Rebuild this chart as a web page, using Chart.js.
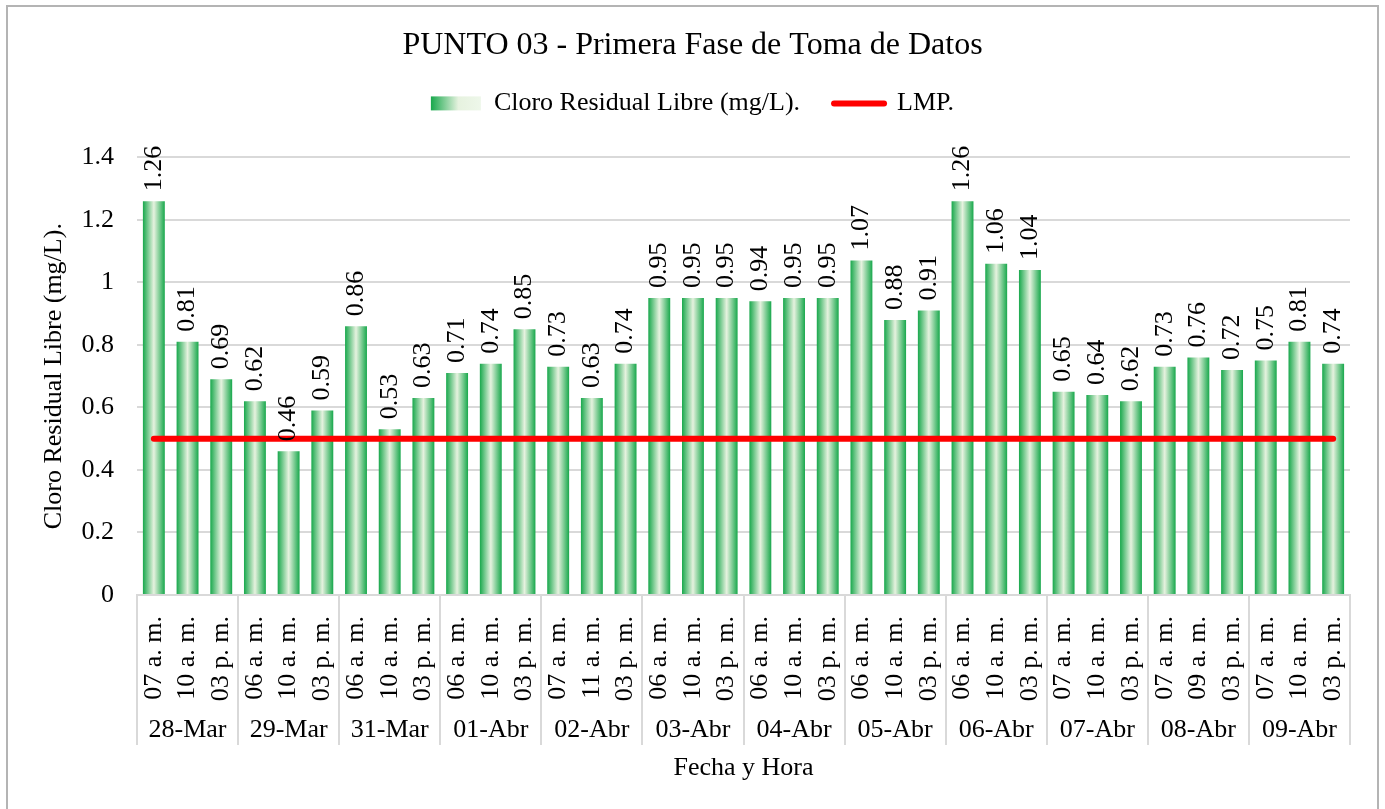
<!DOCTYPE html>
<html lang="es">
<head>
<meta charset="utf-8">
<title>PUNTO 03 - Primera Fase de Toma de Datos</title>
<script src="https://cdn.jsdelivr.net/npm/chart.js@4.4.1/dist/chart.umd.min.js"></script>
<style>
  html, body { margin: 0; padding: 0; background: #fff; }
  #grafico { display: block; }
</style>
</head>
<body>
<canvas id="grafico" width="1385" height="809"></canvas>
<script>
/* Cloro residual libre, punto 03 — primera fase */

const FECHAS = ["28-Mar", "29-Mar", "31-Mar", "01-Abr", "02-Abr", "03-Abr",
  "04-Abr", "05-Abr", "06-Abr", "07-Abr", "08-Abr", "09-Abr"];
const POR_FECHA = 3; // tres tomas por día

const HORAS = [
  "07 a. m.", "10 a. m.", "03 p. m.",
  "06 a. m.", "10 a. m.", "03 p. m.",
  "06 a. m.", "10 a. m.", "03 p. m.",
  "06 a. m.", "10 a. m.", "03 p. m.",
  "07 a. m.", "11 a. m.", "03 p. m.",
  "06 a. m.", "10 a. m.", "03 p. m.",
  "06 a. m.", "10 a. m.", "03 p. m.",
  "06 a. m.", "10 a. m.", "03 p. m.",
  "06 a. m.", "10 a. m.", "03 p. m.",
  "07 a. m.", "10 a. m.", "03 p. m.",
  "07 a. m.", "09 a. m.", "03 p. m.",
  "07 a. m.", "10 a. m.", "03 p. m.",
];

const CLORO = [
  1.26, 0.81, 0.69,
  0.62, 0.46, 0.59,
  0.86, 0.53, 0.63,
  0.71, 0.74, 0.85,
  0.73, 0.63, 0.74,
  0.95, 0.95, 0.95,
  0.94, 0.95, 0.95,
  1.07, 0.88, 0.91,
  1.26, 1.06, 1.04,
  0.65, 0.64, 0.62,
  0.73, 0.76, 0.72,
  0.75, 0.81, 0.74,
];

// límite máximo permisible
const LMP = [
  0.5, 0.5, 0.5, 0.5, 0.5, 0.5, 0.5, 0.5, 0.5, 0.5, 0.5, 0.5,
  0.5, 0.5, 0.5, 0.5, 0.5, 0.5, 0.5, 0.5, 0.5, 0.5, 0.5, 0.5,
  0.5, 0.5, 0.5, 0.5, 0.5, 0.5, 0.5, 0.5, 0.5, 0.5, 0.5, 0.5,
];

const GREEN = "#18a84c";
const PALE = "#e6f2df";
const RED = "#ff0000";
const GRID = "#d9d9d9";
const SERIF = '"Liberation Serif", "Times New Roman", serif';
const BAR_PCT = 0.65;

Chart.defaults.font.family = SERIF;
Chart.defaults.font.size = 26;
Chart.defaults.color = "#000";

function barGradient(c) {
  const x = c.chart.scales.x;
  if (!x || c.dataIndex == null || !x.width) return GREEN;
  const cx = x.getPixelForValue(c.dataIndex);
  if (!isFinite(cx)) return GREEN;
  const half = (x.width / HORAS.length) * BAR_PCT / 2;
  const g = c.chart.ctx.createLinearGradient(cx - half, 0, cx + half, 0);
  g.addColorStop(0, GREEN);
  g.addColorStop(0.5, PALE);
  g.addColorStop(1, GREEN);
  return g;
}

// valores encima de cada barra, girados
const etiquetas = {
  id: "etiquetas",
  afterDatasetsDraw(chart) {
    const { ctx } = chart;
    const meta = chart.getDatasetMeta(0);
    ctx.save();
    ctx.font = "26px " + SERIF;
    ctx.fillStyle = "#000";
    ctx.textAlign = "left";
    ctx.textBaseline = "middle";
    meta.data.forEach((bar, i) => {
      ctx.save();
      ctx.translate(bar.x, bar.y - 10);
      ctx.rotate(-Math.PI / 2);
      ctx.fillText(CLORO[i].toFixed(2), 0, 0);
      ctx.restore();
    });
    ctx.restore();
  },
};

// segundo nivel del eje: fechas y separadores, más el marco y la muestra degradada
const fechas = {
  id: "fechas",
  afterDraw(chart) {
    const { ctx, chartArea, scales: { x } } = chart;
    const paso = (chartArea.right - chartArea.left) / HORAS.length;
    ctx.save();
    ctx.strokeStyle = GRID;
    ctx.lineWidth = 2;
    for (let g = 0; g <= FECHAS.length; g++) {
      const px = Math.round(chartArea.left + g * POR_FECHA * paso);
      ctx.beginPath();
      ctx.moveTo(px, chartArea.bottom);
      ctx.lineTo(px, chartArea.bottom + 150);
      ctx.stroke();
    }
    ctx.font = "26px " + SERIF;
    ctx.fillStyle = "#000";
    ctx.textAlign = "center";
    ctx.textBaseline = "middle";
    FECHAS.forEach((f, g) => {
      const a = x.getPixelForValue(g * POR_FECHA);
      const b = x.getPixelForValue(g * POR_FECHA + POR_FECHA - 1);
      ctx.fillText(f, (a + b) / 2, chartArea.bottom + 135);
    });

    const box = chart.legend.legendHitBoxes[0];
    if (box) {
      const y = box.top + 13 - 7;
      const lg = ctx.createLinearGradient(box.left, 0, box.left + 50, 0);
      lg.addColorStop(0, GREEN);
      lg.addColorStop(0.55, PALE);
      lg.addColorStop(1, "#eef7ea");
      ctx.fillStyle = lg;
      ctx.fillRect(box.left, y, 50, 14);
    }

    ctx.strokeStyle = "#b4b4b4";
    ctx.lineWidth = 2;
    ctx.strokeRect(7, 6, 1371, 820);
    ctx.restore();
  },
};

new Chart(document.getElementById("grafico"), {
  type: "bar",
  data: {
    labels: HORAS,
    datasets: [
      {
        type: "bar",
        label: "Cloro Residual Libre (mg/L).",
        data: CLORO,
        backgroundColor: barGradient,
        categoryPercentage: BAR_PCT,
        barPercentage: 1,
        order: 2,
      },
      {
        type: "line",
        label: "LMP.",
        data: LMP,
        borderColor: RED,
        borderWidth: 6,
        borderCapStyle: "round",
        pointRadius: 0,
        order: 1,
      },
    ],
  },
  options: {
    responsive: false,
    animation: false,
    layout: { padding: { left: 35, right: 35, top: 0, bottom: 0 } },
    plugins: {
      title: {
        display: true,
        text: "PUNTO 03 - Primera Fase de Toma de Datos",
        font: { size: 32, weight: "normal" },
        color: "#000",
        padding: { top: 26, bottom: -8 },
      },
      legend: {
        display: true,
        position: "top",
        labels: {
          usePointStyle: true,
          pointStyleWidth: 50,
          boxHeight: 14,
          padding: 34,
          color: "#000",
          font: { size: 26 },
          generateLabels: () => [
            {
              text: "Cloro Residual Libre (mg/L).",
              fillStyle: "rgba(0,0,0,0)",
              strokeStyle: "rgba(0,0,0,0)",
              lineWidth: 0,
              pointStyle: "rect",
              datasetIndex: 0,
              fontColor: "#000",
            },
            {
              text: "LMP.",
              fillStyle: RED,
              strokeStyle: RED,
              lineWidth: 6,
              lineCap: "round",
              pointStyle: "line",
              datasetIndex: 1,
              fontColor: "#000",
            },
          ],
        },
      },
      // espacio vacío entre la leyenda y el área de trazado
      subtitle: {
        display: true,
        text: "",
        weight: 500,
        font: { size: 10 },
        padding: { top: 19, bottom: 0 },
      },
      tooltip: { enabled: false },
    },
    scales: {
      x: {
        grid: { display: false },
        border: { color: GRID, width: 2 },
        ticks: {
          autoSkip: false,
          minRotation: 90,
          maxRotation: 90,
          padding: 13,
          font: { size: 26 },
          color: "#000",
        },
        title: {
          display: true,
          text: "Fecha y Hora",
          font: { size: 26 },
          color: "#000",
          padding: { top: 0, bottom: 25 },
        },
        afterFit: (s) => { s.height = 214; },
      },
      y: {
        min: 0,
        max: 1.4,
        ticks: {
          stepSize: 0.2,
          padding: 23,
          font: { size: 26 },
          color: "#000",
          callback: (v) => String(Math.round(v * 10) / 10),
        },
        grid: { color: GRID, lineWidth: 2, drawTicks: false },
        border: { display: false },
        title: {
          display: true,
          text: "Cloro Residual Libre (mg/L).",
          font: { size: 26 },
          color: "#000",
          padding: { top: 4, bottom: 0 },
        },
        afterFit: (s) => { s.width = 102; },
      },
    },
  },
  plugins: [etiquetas, fechas],
});
</script>
</body>
</html>
